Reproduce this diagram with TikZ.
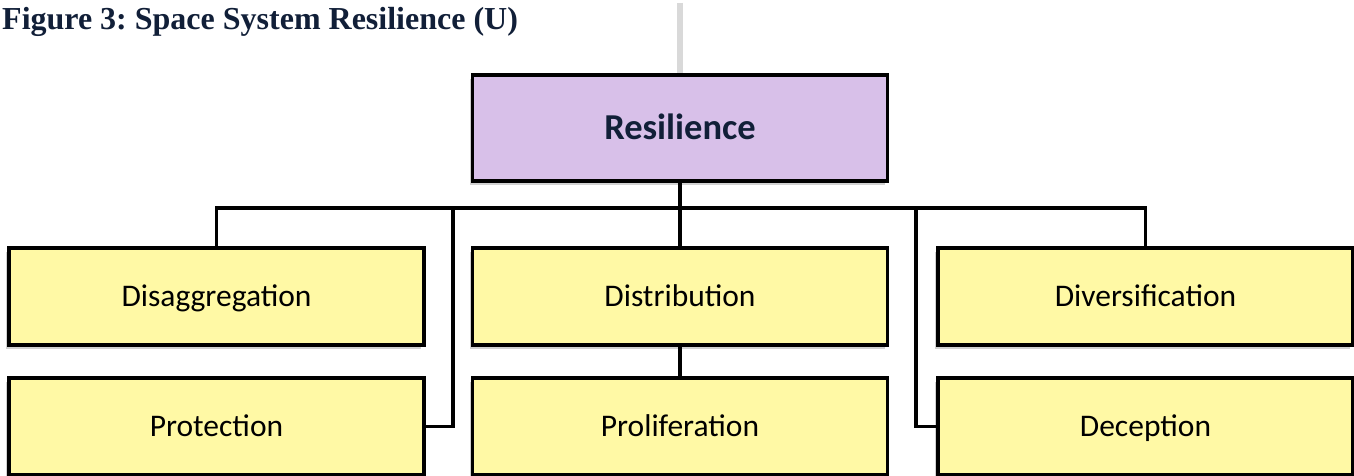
\documentclass[tikz,border=0pt]{standalone}
\usepackage{fontspec}
\setmainfont{Liberation Serif}
\newfontfamily\calibri{Carlito}
\usepackage{tikz}
\usetikzlibrary{positioning,shadows}
\frenchspacing

\definecolor{navy}{RGB}{17,31,56}
\definecolor{lavender}{RGB}{216,192,233}
\definecolor{paleyellow}{RGB}{255,249,165}

\tikzset{
	box/.style={draw=black, line width=3.5pt, rectangle, inner sep=0pt,
		minimum width=415pt, minimum height=97pt, text depth=0pt,
		drop shadow={shadow xshift=-3pt, shadow yshift=-4pt, opacity=.3, fill=black!60}},
	top/.style={box, fill=lavender, minimum height=106pt, text=navy, text height=23pt,
		font=\calibri\bfseries\fontsize{36.5}{40}\selectfont},
	leaf/.style={box, fill=paleyellow, text=black, text height=20pt,
		font=\calibri\fontsize{31.5}{36}\selectfont},
	conn/.style={draw=black, line width=3.5pt}
}

\begin{document}
\begin{tikzpicture}[x=1pt,y=-1pt]
		\useasboundingbox (0,0) rectangle (1354,476);

		\node[anchor=base west, text=navy, font=\bfseries\fontsize{32}{36}\selectfont, inner sep=0pt] (title) at (2,30) {Figure 3: Space System Resilience (U)};

		\coordinate (bar) at (680,3);
		\draw[black!15, line width=6pt] (bar) -- (680,74);

		\draw (680,128) node[top] (res) {Resilience};

		\draw (216.5,296.5) node[leaf] (disagg) {Disaggregation};
		\draw (680,296.5) node[leaf] (distrib) {Distribution};
		\draw (1145.5,296.5) node[leaf] (divers) {Diversification};
		\draw (216.5,426.5) node[leaf] (protect) {Protection};
		\draw (680,426.5) node[leaf] (prolif) {Proliferation};
		\draw (1145.5,426.5) node[leaf] (decep) {Deception};

		\coordinate (bus) at (680,208);
		\coordinate (busleft) at (453,208);
		\coordinate (busright) at (916,208);

		\path[conn]
			(res) edge (distrib)
			(distrib) edge (prolif);
		\draw[conn] (disagg) |- (bus) -| (divers);
		\draw[conn] (busleft) |- (protect);
		\draw[conn] (busright) |- (decep);
\end{tikzpicture}
\end{document}
